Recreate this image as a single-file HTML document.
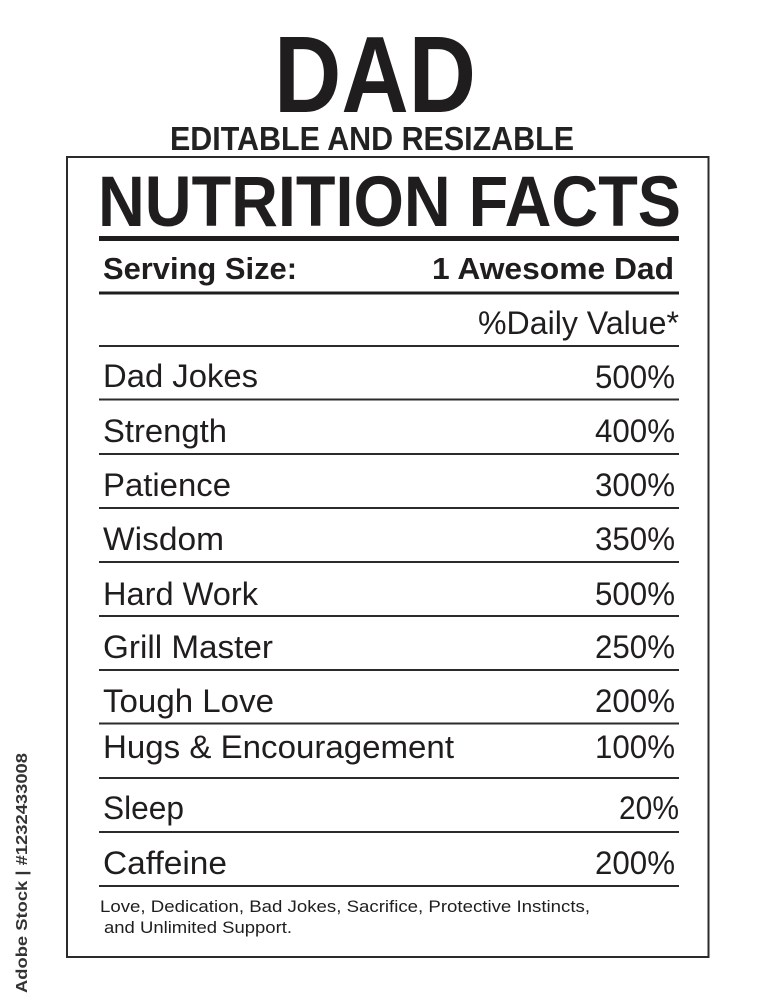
<!DOCTYPE html>
<html>
<head>
<meta charset="utf-8">
<style>
html,body{margin:0;padding:0;background:#fff;}
svg{display:block;}
text{font-family:"Liberation Sans",Arial,sans-serif;fill:#1f1d1e;}
.b{font-weight:bold;}
.row{font-size:32px;}
</style>
</head>
<body>
<svg width="776" height="1000" viewBox="0 0 776 1000" xmlns="http://www.w3.org/2000/svg">
<rect x="0" y="0" width="776" height="1000" fill="#fff"/>

<!-- Title -->
<text class="b" x="274" y="112" font-size="109" textLength="202" lengthAdjust="spacingAndGlyphs">DAD</text>
<text class="b" x="170" y="150" font-size="33" textLength="404" lengthAdjust="spacingAndGlyphs" style="fill:#222">EDITABLE AND RESIZABLE</text>

<!-- Box -->
<rect x="67" y="157" width="641.5" height="800" fill="none" stroke="#2b2b2b" stroke-width="2"/>

<text class="b" x="98" y="226" font-size="71" textLength="583" lengthAdjust="spacingAndGlyphs">NUTRITION FACTS</text>
<rect x="99" y="236" width="580" height="5" fill="#1f1d1e"/>

<text class="b" x="103" y="279" font-size="31" textLength="194" lengthAdjust="spacingAndGlyphs">Serving Size:</text>
<text class="b" x="432" y="279" font-size="31" textLength="242" lengthAdjust="spacingAndGlyphs">1 Awesome Dad</text>
<rect x="99" y="291.5" width="580" height="3" fill="#1f1d1e"/>

<text class="row" x="478" y="334" textLength="201" lengthAdjust="spacingAndGlyphs">%Daily Value*</text>
<rect x="99" y="345" width="580" height="2" fill="#2b2b2b"/>

<!-- Rows -->
<text class="row" x="103" y="387" textLength="155" lengthAdjust="spacingAndGlyphs">Dad Jokes</text>
<text class="row" x="595" y="388" textLength="80" lengthAdjust="spacingAndGlyphs">500%</text>
<rect x="99" y="398.5" width="580" height="2" fill="#2b2b2b"/>

<text class="row" x="103" y="442" textLength="124" lengthAdjust="spacingAndGlyphs">Strength</text>
<text class="row" x="595" y="442" textLength="80" lengthAdjust="spacingAndGlyphs">400%</text>
<rect x="99" y="453" width="580" height="2" fill="#2b2b2b"/>

<text class="row" x="103" y="496" textLength="128" lengthAdjust="spacingAndGlyphs">Patience</text>
<text class="row" x="595" y="496" textLength="80" lengthAdjust="spacingAndGlyphs">300%</text>
<rect x="99" y="507" width="580" height="2" fill="#2b2b2b"/>

<text class="row" x="103" y="550" textLength="121" lengthAdjust="spacingAndGlyphs">Wisdom</text>
<text class="row" x="595" y="550" textLength="80" lengthAdjust="spacingAndGlyphs">350%</text>
<rect x="99" y="561" width="580" height="2" fill="#2b2b2b"/>

<text class="row" x="103" y="605" textLength="155" lengthAdjust="spacingAndGlyphs">Hard Work</text>
<text class="row" x="595" y="605" textLength="80" lengthAdjust="spacingAndGlyphs">500%</text>
<rect x="99" y="615" width="580" height="2" fill="#2b2b2b"/>

<text class="row" x="103" y="658" textLength="170" lengthAdjust="spacingAndGlyphs">Grill Master</text>
<text class="row" x="595" y="658" textLength="80" lengthAdjust="spacingAndGlyphs">250%</text>
<rect x="99" y="669" width="580" height="2" fill="#2b2b2b"/>

<text class="row" x="103" y="712" textLength="171" lengthAdjust="spacingAndGlyphs">Tough Love</text>
<text class="row" x="595" y="712" textLength="80" lengthAdjust="spacingAndGlyphs">200%</text>
<rect x="99" y="722.5" width="580" height="2" fill="#2b2b2b"/>

<text class="row" x="103" y="758" textLength="351" lengthAdjust="spacingAndGlyphs">Hugs &amp; Encouragement</text>
<text class="row" x="595" y="758" textLength="80" lengthAdjust="spacingAndGlyphs">100%</text>
<rect x="99" y="777" width="580" height="2" fill="#2b2b2b"/>

<text class="row" x="103" y="819" textLength="81" lengthAdjust="spacingAndGlyphs">Sleep</text>
<text class="row" x="619" y="819" textLength="60" lengthAdjust="spacingAndGlyphs">20%</text>
<rect x="99" y="831" width="580" height="2" fill="#2b2b2b"/>

<text class="row" x="103" y="874" textLength="124" lengthAdjust="spacingAndGlyphs">Caffeine</text>
<text class="row" x="595" y="874" textLength="80" lengthAdjust="spacingAndGlyphs">200%</text>
<rect x="99" y="885" width="580" height="2" fill="#2b2b2b"/>

<!-- Footer -->
<text x="100" y="912" font-size="17" textLength="490" lengthAdjust="spacingAndGlyphs">Love, Dedication, Bad Jokes, Sacrifice, Protective Instincts,</text>
<text x="104" y="933" font-size="17" textLength="188" lengthAdjust="spacingAndGlyphs">and Unlimited Support.</text>

<!-- Side label -->
<text x="0" y="0" font-size="16" font-weight="600" textLength="240" lengthAdjust="spacingAndGlyphs" style="fill:#333" transform="translate(27,993) rotate(-90)">Adobe Stock | #1232433008</text>
</svg>
</body>
</html>
